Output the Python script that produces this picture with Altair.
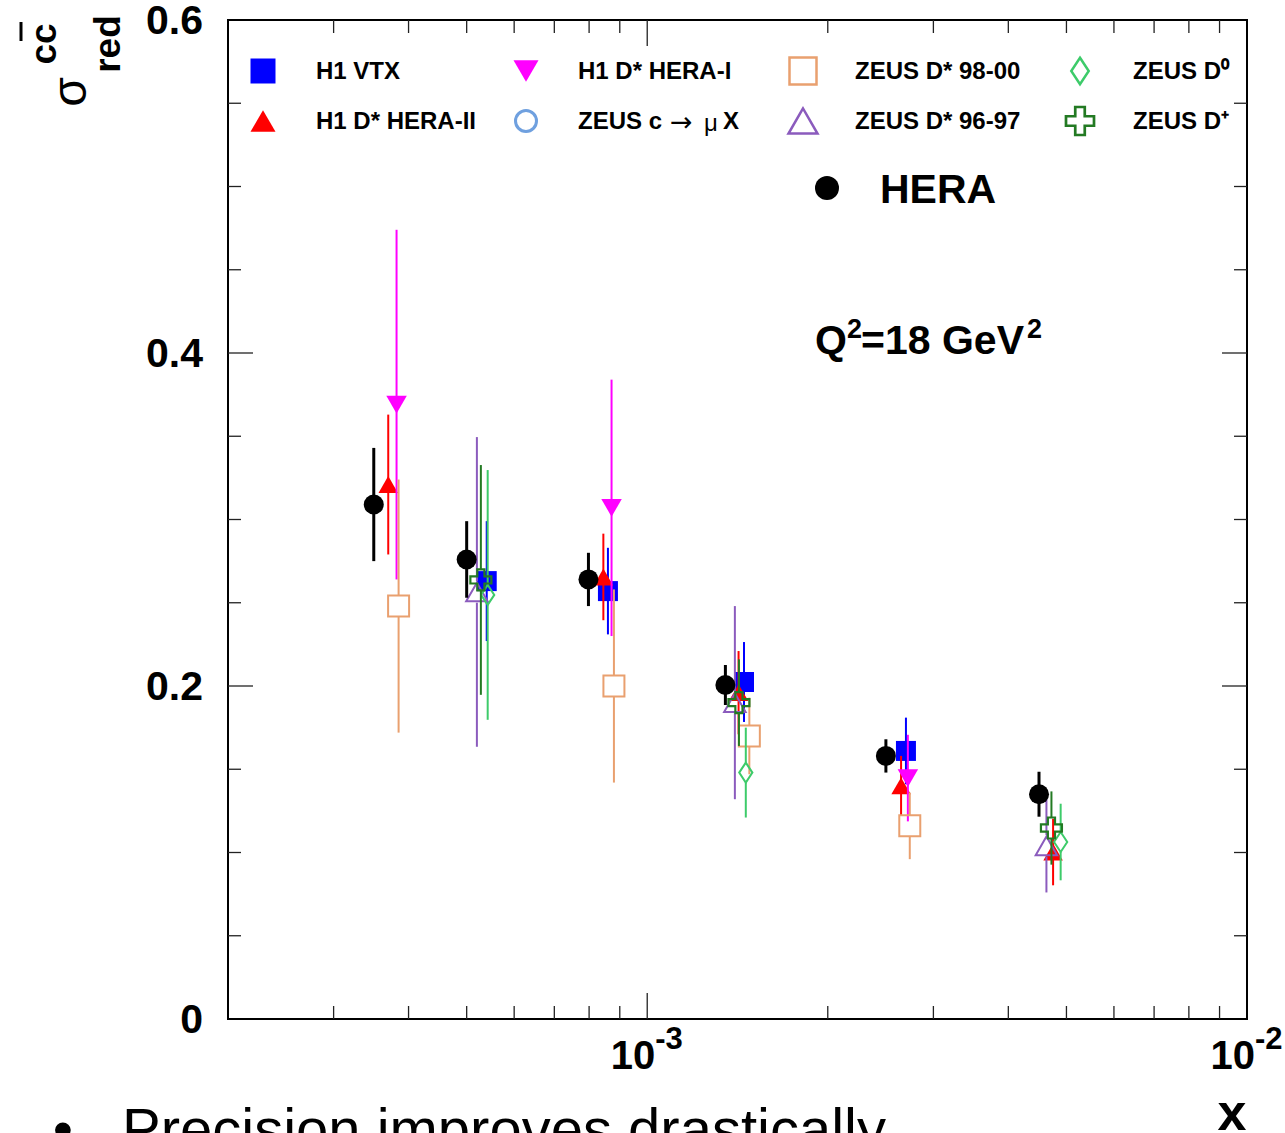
import altair as alt
import pandas as pd

# ---------------- data ----------------
hera_x = [3.50e-4, 5.0e-4, 7.98e-4, 1.35e-3, 2.50e-3, 4.5e-3]
hera_y = [0.309, 0.276, 0.264, 0.2006, 0.158, 0.135]
hera_e = [0.034, 0.023, 0.016, 0.012, 0.010, 0.0135]

vtx_x = [5.40e-4, 8.6e-4, 1.45e-3, 2.70e-3]
vtx_y = [0.263, 0.257, 0.2024, 0.161]
vtx_e = [0.036, 0.026, 0.024, 0.020]

dstar2_x = [3.70e-4, 8.45e-4, 1.42e-3, 2.65e-3, 4.75e-3]
dstar2_y = [0.321, 0.2655, 0.196, 0.140, 0.1003]
dstar2_e = [0.042, 0.026, 0.025, 0.018, 0.020]

dstar1_x = [3.82e-4, 8.72e-4, 2.72e-3]
dstar1_y = [0.369, 0.307, 0.1447]
dstar1_e = [0.105, 0.077, 0.026]

z98_x = [3.85e-4, 8.80e-4, 1.48e-3, 2.74e-3]
z98_y = [0.248, 0.200, 0.170, 0.116]
z98_e = [0.076, 0.058, 0.023, 0.020]

z96_x = [5.20e-4, 1.40e-3, 4.63e-3]
z96_y = [0.2565, 0.190, 0.104]
z96_e = [0.093, 0.058, 0.028]

zd0_x = [5.42e-4, 1.46e-3, 4.89e-3]
zd0_y = [0.2547, 0.148, 0.1063]
zd0_e = [0.075, 0.027, 0.023]

zdp_x = [5.28e-4, 1.422e-3, 4.72e-3]
zdp_y = [0.2637, 0.190, 0.1147]
zdp_e = [0.069, 0.026, 0.022]

zmu_x = []
zmu_y = []
zmu_e = []

legend_names = ["H1 VTX", "H1 D* HERA-I", "ZEUS D* 98-00", "ZEUS D\u2070",
                "H1 D* HERA-II", "ZEUS c \u2192 \u03bc X", "ZEUS D* 96-97", "ZEUS D\u207a"]

y_tick_labels = ["0", "0.2", "0.4", "0.6"]
y_major = [0.2, 0.4]
y_minor = [0.05, 0.1, 0.15, 0.25, 0.3, 0.35, 0.45, 0.5, 0.55]
x_major = [1e-3]
x_minor = [3e-4, 4e-4, 5e-4, 6e-4, 7e-4, 8e-4, 9e-4,
           2e-3, 3e-3, 4e-3, 5e-3, 6e-3, 7e-3, 8e-3, 9e-3]
x_label_vals = [1e-3, 1e-2]
x_label_base = ["10", "10"]
x_label_exp = ["-3", "-2"]

# ---------------- layout / style ----------------
W, H = 1019, 999
PX_PER_UNIT = H / 0.6
FONT = "Liberation Sans"
DIAMOND = "M0,-1L0.66,0L0,1L-0.66,0Z"
CROSS = "M-0.34,-1H0.34V-0.34H1V0.34H0.34V1H-0.34V0.34H-1V-0.34H-0.34Z"

series = [
    ("H1 VTX", vtx_x, vtx_y, vtx_e, dict(color="#0000FF", shape="square", filled=True, size=400, lsize=625, sw=2)),
    ("H1 D* HERA-II", dstar2_x, dstar2_y, dstar2_e, dict(color="#FF0000", shape="triangle-up", filled=True, size=380, lsize=625, sw=2)),
    ("H1 D* HERA-I", dstar1_x, dstar1_y, dstar1_e, dict(color="#FF00FF", shape="triangle-down", filled=True, size=420, lsize=625, sw=2)),
    ("ZEUS c \u2192 \u03bc X", zmu_x, zmu_y, zmu_e, dict(color="#6FA0DF", shape="circle", filled=False, size=400, lsize=441, sw=2.5)),
    ("ZEUS D* 98-00", z98_x, z98_y, z98_e, dict(color="#E9A06F", shape="square", filled=False, size=441, lsize=729, sw=2)),
    ("ZEUS D* 96-97", z96_x, z96_y, z96_e, dict(color="#8B5BBD", shape="triangle-up", filled=False, size=460, lsize=841, sw=2)),
    ("ZEUS D\u2070", zd0_x, zd0_y, zd0_e, dict(color="#3DCB6A", shape=DIAMOND, filled=False, size=400, lsize=700, sw=2)),
    ("ZEUS D\u207a", zdp_x, zdp_y, zdp_e, dict(color="#237A23", shape=CROSS, filled=False, size=441, lsize=784, sw=2.2)),
]

xscale = alt.Scale(type="log", domain=[2e-4, 1e-2], nice=False)
yscale = alt.Scale(domain=[0, 0.6], nice=False, zero=False)


def one():
    return alt.Data(values=[{"k": 1}])


layers = []


def add_series(xs, ys, es, st, gap_px, ebw):
    if not xs:
        return
    gap = gap_px / PX_PER_UNIT
    up = pd.DataFrame({"x": xs, "lo": [y + gap for y in ys], "hi": [y + e for y, e in zip(ys, es)]})
    dn = pd.DataFrame({"x": xs, "lo": [y - e for y, e in zip(ys, es)], "hi": [y - gap for y in ys]})
    for d in (up, dn):
        layers.append(alt.Chart(d).mark_rule(color=st["color"], strokeWidth=ebw).encode(
            x=alt.X("x:Q", scale=xscale, axis=None),
            y=alt.Y("lo:Q", scale=yscale, axis=None),
            y2="hi:Q"))
    pts = pd.DataFrame({"x": xs, "y": ys})
    kw = dict(shape=st["shape"], size=st["size"], opacity=1)
    if st["filled"]:
        kw.update(filled=True, fill=st["color"], strokeWidth=0)
    else:
        kw.update(filled=False, stroke=st["color"], strokeWidth=st["sw"], fillOpacity=0)
    layers.append(alt.Chart(pts).mark_point(**kw).encode(
        x=alt.X("x:Q", scale=xscale, axis=None),
        y=alt.Y("y:Q", scale=yscale, axis=None)))


for name, xs, ys, es, st in series:
    gap = 0 if st["filled"] else (st["size"] ** 0.5) / 2
    add_series(xs, ys, es, st, gap, 2)

add_series(hera_x, hera_y, hera_e,
           dict(color="black", shape="circle", filled=True, size=400, sw=2), 0, 3)

# ---------------- ticks (inward, ROOT style) ----------------
def tick_rules(vals, length, axis):
    d = pd.DataFrame({"v": vals})
    c = alt.Chart(d).mark_rule(color="#222222", strokeWidth=1.3)
    if axis == "x":
        return [c.encode(x=alt.X("v:Q", scale=xscale, axis=None), y=alt.value(H), y2=alt.value(H - length)),
                c.encode(x=alt.X("v:Q", scale=xscale, axis=None), y=alt.value(0), y2=alt.value(length))]
    return [c.encode(y=alt.Y("v:Q", scale=yscale, axis=None), x=alt.value(0), x2=alt.value(length)),
            c.encode(y=alt.Y("v:Q", scale=yscale, axis=None), x=alt.value(W), x2=alt.value(W - length))]


layers += tick_rules(x_major, 26, "x") + tick_rules(x_minor, 13, "x")
layers += tick_rules(y_major, 25, "y") + tick_rules(y_minor, 13, "y")

# ---------------- tick labels ----------------
ylab = pd.DataFrame({"v": [float(s) for s in y_tick_labels], "t": y_tick_labels})
layers.append(alt.Chart(ylab).mark_text(font=FONT, fontWeight="bold", fontSize=41, align="right",
                                        baseline="middle", dy=2, color="black").encode(
    y=alt.Y("v:Q", scale=yscale, axis=None), x=alt.value(-25), text="t:N"))

xlab = pd.DataFrame({"v": x_label_vals, "b": x_label_base, "e": x_label_exp})
layers.append(alt.Chart(xlab).mark_text(font=FONT, fontWeight="bold", fontSize=40, align="right",
                                        baseline="alphabetic", dx=8, color="black").encode(
    x=alt.X("v:Q", scale=xscale, axis=None), y=alt.value(1049), text="b:N"))
layers.append(alt.Chart(xlab).mark_text(font=FONT, fontWeight="bold", fontSize=31, align="left",
                                        baseline="alphabetic", dx=8, color="black").encode(
    x=alt.X("v:Q", scale=xscale, axis=None), y=alt.value(1029), text="e:N"))


def txt(s, x, y, size, weight="bold", align="left", baseline="alphabetic", angle=None, font=FONT):
    kw = dict(text=s, font=font, fontSize=size, fontWeight=weight, align=align,
              baseline=baseline, color="black")
    if angle is not None:
        kw["angle"] = angle
    layers.append(alt.Chart(one()).mark_text(**kw).encode(x=alt.value(x - 228), y=alt.value(y - 20)))


# axis titles
txt("x", 1232, 1130, 52, align="center")
txt("\u03c3", 72, 92, 48, weight="normal", align="center", baseline="middle", angle=270)
txt("cc", 45, 44, 37, align="center", baseline="middle", angle=270)
txt("red", 109, 44, 37, align="center", baseline="middle", angle=270)
layers.append(alt.Chart(one()).mark_rule(color="black", strokeWidth=3).encode(
    x=alt.value(21 - 228), y=alt.value(22 - 20), y2=alt.value(41 - 20)))

# annotations
txt("HERA", 880, 203, 41)
layers.append(alt.Chart(one()).mark_point(shape="circle", filled=True, fill="black", size=576,
                                          strokeWidth=0, opacity=1).encode(
    x=alt.value(827 - 228), y=alt.value(188 - 20)))
txt("Q", 815, 354, 41)
txt("2", 847, 338, 27)
txt("=18 GeV", 861, 354, 41)
txt("2", 1027, 338, 27)

# slide text below the plot
txt("\u2022", 63, 1149, 58, weight="normal", align="center")
txt("Precision improves drastically", 122, 1149, 58, weight="normal")

# ---------------- legend ----------------
style_by_name = {n: st for n, _, _, _, st in series}
sym_x = [263, 526, 803, 1080]
lab_x = [316, 578, 855, 1133]
row_y = [71, 121]
for i, name in enumerate(legend_names):
    st = style_by_name[name]
    cx, ry = sym_x[i % 4], row_y[i // 4]
    kw = dict(shape=st["shape"], size=st["lsize"], opacity=1)
    if st["filled"]:
        kw.update(filled=True, fill=st["color"], strokeWidth=0)
    else:
        kw.update(filled=False, stroke=st["color"], strokeWidth=st["sw"] + 0.5, fillOpacity=0)
    layers.append(alt.Chart(one()).mark_point(**kw).encode(x=alt.value(cx - 228), y=alt.value(ry - 20)))
    lx = lab_x[i % 4]
    if "\u2192" in name:
        head, rest = name.split("\u2192")
        mu, tail = rest.strip().split(" ")
        txt(head.strip(), lx, ry + 1, 24, baseline="middle")
        txt("\u2192", lx + 92, ry + 2, 27, weight="normal", baseline="middle", font="DejaVu Sans")
        txt(mu, lx + 126, ry + 3, 24, weight="normal", baseline="middle")
        txt(tail, lx + 145, ry + 1, 24, baseline="middle")
    else:
        txt(name, lx, ry + 1, 24, baseline="middle")

chart = alt.layer(*layers).properties(
    width=W, height=H,
    padding={"left": 228, "top": 20, "right": 38, "bottom": 114},
    autosize=alt.AutoSizeParams(type="none"),
    background="white",
).configure_view(stroke="black", strokeWidth=2)

chart.save("out.html", embed_options={"renderer": "svg", "actions": False})
